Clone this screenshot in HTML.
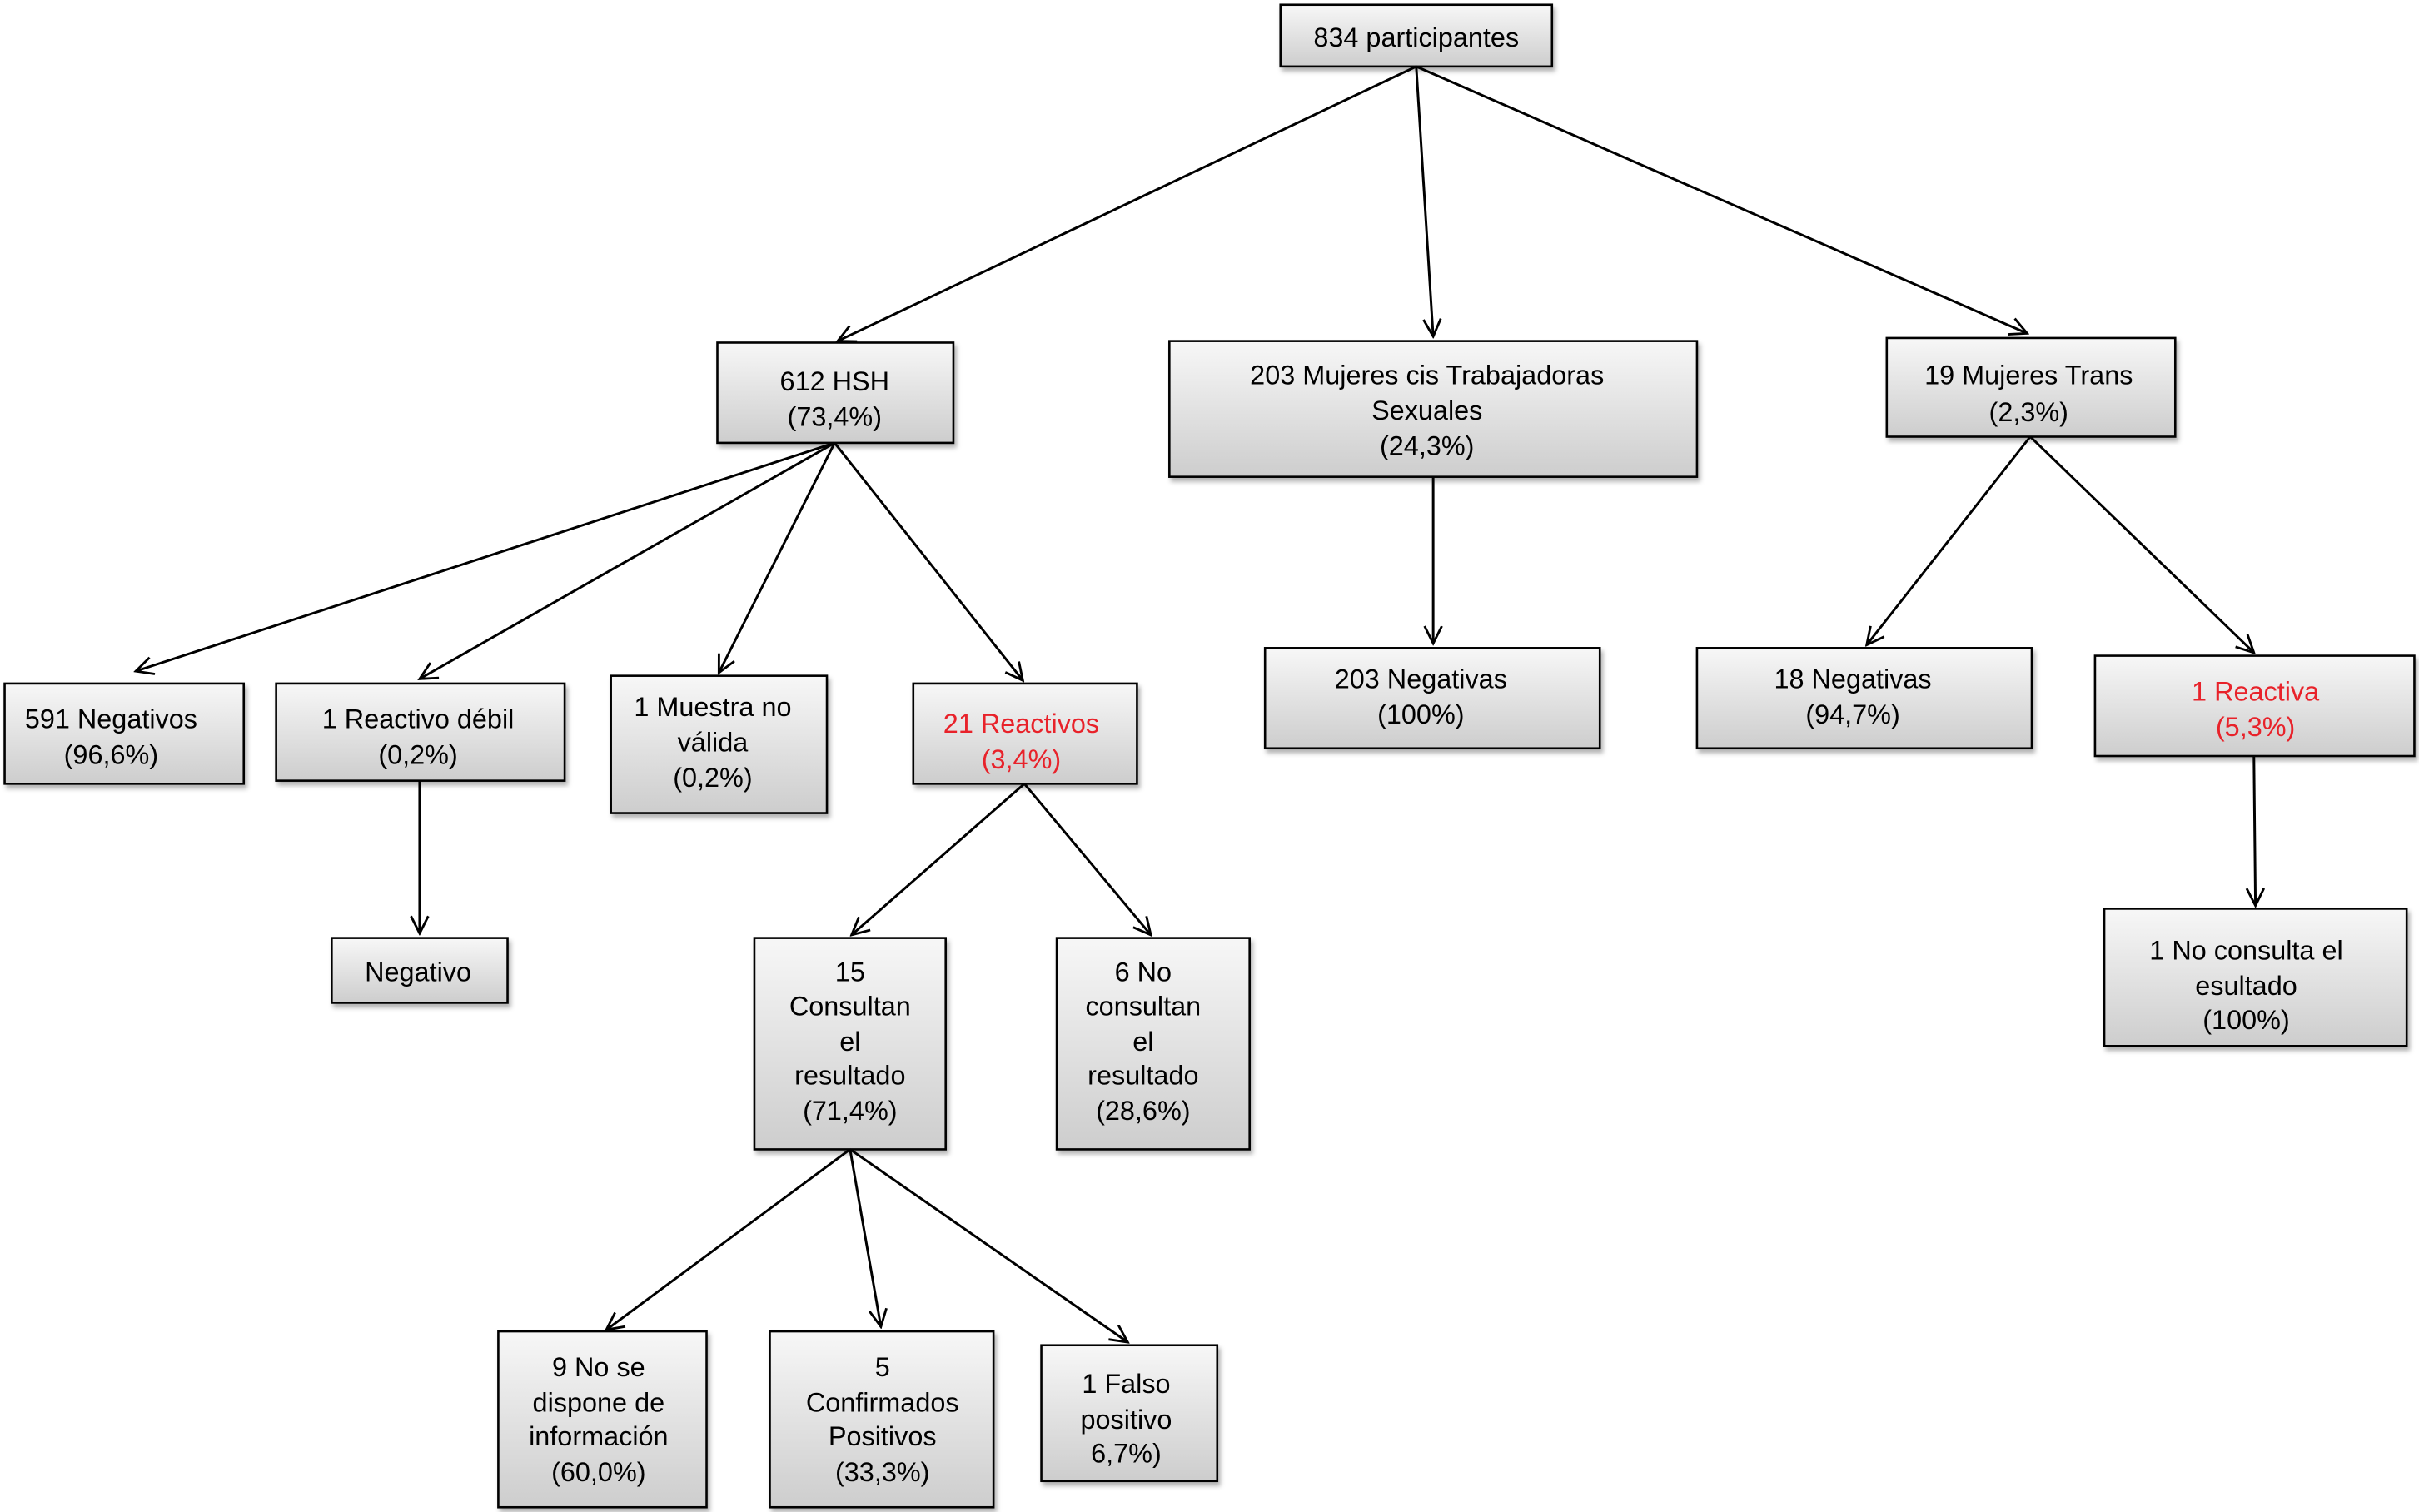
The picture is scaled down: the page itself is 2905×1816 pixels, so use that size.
<!DOCTYPE html>
<html><head><meta charset="utf-8"><style>html,body{margin:0;padding:0;background:#fff}svg{display:block}</style></head>
<body>
<svg width="2905" height="1816" viewBox="0 0 1568 980" xmlns="http://www.w3.org/2000/svg" font-family="Liberation Sans, sans-serif" font-size="17.5" text-anchor="middle">
<defs>
<linearGradient id="g" x1="0" y1="0" x2="0" y2="1"><stop offset="0" stop-color="#f7f7f7"/><stop offset="1" stop-color="#cdcdcd"/></linearGradient>
<filter id="s" x="-10%" y="-10%" width="130%" height="140%"><feDropShadow dx="1.5" dy="2.5" stdDeviation="1.5" flood-color="#000" flood-opacity="0.3"/></filter>
<marker id="a" viewBox="0 0 20 20" refX="18" refY="10" markerWidth="14" markerHeight="14" markerUnits="userSpaceOnUse" orient="auto"><polyline points="2,2 18,10 2,18" fill="none" stroke="#000" stroke-width="2.2"/></marker>
</defs>
<g fill="url(#g)" stroke="#000" stroke-width="1.4" filter="url(#s)">
<rect x="830" y="3" width="176" height="40"/>
<rect x="465" y="222" width="153" height="65"/>
<rect x="758" y="221" width="342" height="88"/>
<rect x="1223" y="219" width="187" height="64"/>
<rect x="3" y="443" width="155" height="65"/>
<rect x="179" y="443" width="187" height="63"/>
<rect x="396" y="438" width="140" height="89"/>
<rect x="592" y="443" width="145" height="65"/>
<rect x="820" y="420" width="217" height="65"/>
<rect x="1100" y="420" width="217" height="65"/>
<rect x="1358" y="425" width="207" height="65"/>
<rect x="215" y="608" width="114" height="42"/>
<rect x="489" y="608" width="124" height="137"/>
<rect x="685" y="608" width="125" height="137"/>
<rect x="1364" y="589" width="196" height="89"/>
<rect x="323" y="863" width="135" height="114"/>
<rect x="499" y="863" width="145" height="114"/>
<rect x="675" y="872" width="114" height="88"/>
</g>
<g stroke="#000" stroke-width="1.6" fill="none" marker-end="url(#a)">
<line x1="918" y1="43" x2="543" y2="221"/>
<line x1="918" y1="43" x2="929" y2="218"/>
<line x1="918" y1="43" x2="1314" y2="216"/>
<line x1="541" y1="287" x2="88" y2="435"/>
<line x1="541" y1="287" x2="272" y2="440"/>
<line x1="541" y1="287" x2="466" y2="436"/>
<line x1="541" y1="287" x2="663" y2="441"/>
<line x1="272" y1="506" x2="272" y2="605"/>
<line x1="929" y1="309" x2="929" y2="417"/>
<line x1="1316" y1="283" x2="1210" y2="418"/>
<line x1="1316" y1="283" x2="1461" y2="423"/>
<line x1="1461" y1="490" x2="1462" y2="587"/>
<line x1="664" y1="508" x2="552" y2="606"/>
<line x1="664" y1="508" x2="746" y2="606"/>
<line x1="551" y1="745" x2="393" y2="862"/>
<line x1="551" y1="745" x2="571" y2="860"/>
<line x1="551" y1="745" x2="731" y2="870"/>
</g>
<g fill="#000">
<text x="918" y="30">834 participantes</text>
<text x="541" y="253">612 HSH</text><text x="541" y="276">(73,4%)</text>
<text x="925" y="249">203 Mujeres cis Trabajadoras</text><text x="925" y="272">Sexuales</text><text x="925" y="295">(24,3%)</text>
<text x="1315" y="249">19 Mujeres Trans</text><text x="1315" y="273">(2,3%)</text>
<text x="72" y="472">591 Negativos</text><text x="72" y="495">(96,6%)</text>
<text x="271" y="472">1 Reactivo débil</text><text x="271" y="495">(0,2%)</text>
<text x="462" y="464">1 Muestra no</text><text x="462" y="487">válida</text><text x="462" y="510">(0,2%)</text>
<text x="921" y="446">203 Negativas</text><text x="921" y="469">(100%)</text>
<text x="1201" y="446">18 Negativas</text><text x="1201" y="469">(94,7%)</text>
<text x="271" y="636">Negativo</text>
<text x="551" y="636">15</text><text x="551" y="658">Consultan</text><text x="551" y="681">el</text><text x="551" y="703">resultado</text><text x="551" y="726">(71,4%)</text>
<text x="741" y="636">6 No</text><text x="741" y="658">consultan</text><text x="741" y="681">el</text><text x="741" y="703">resultado</text><text x="741" y="726">(28,6%)</text>
<text x="1456" y="622">1 No consulta el</text><text x="1456" y="645">esultado</text><text x="1456" y="667">(100%)</text>
<text x="388" y="892">9 No se</text><text x="388" y="915">dispone de</text><text x="388" y="937">información</text><text x="388" y="960">(60,0%)</text>
<text x="572" y="892">5</text><text x="572" y="915">Confirmados</text><text x="572" y="937">Positivos</text><text x="572" y="960">(33,3%)</text>
<text x="730" y="903">1 Falso</text><text x="730" y="926">positivo</text><text x="730" y="948">6,7%)</text>
</g>
<g fill="#e8222a">
<text x="662" y="475">21 Reactivos</text><text x="662" y="498">(3,4%)</text>
<text x="1462" y="454">1 Reactiva</text><text x="1462" y="477">(5,3%)</text>
</g>
</svg>
</body></html>
